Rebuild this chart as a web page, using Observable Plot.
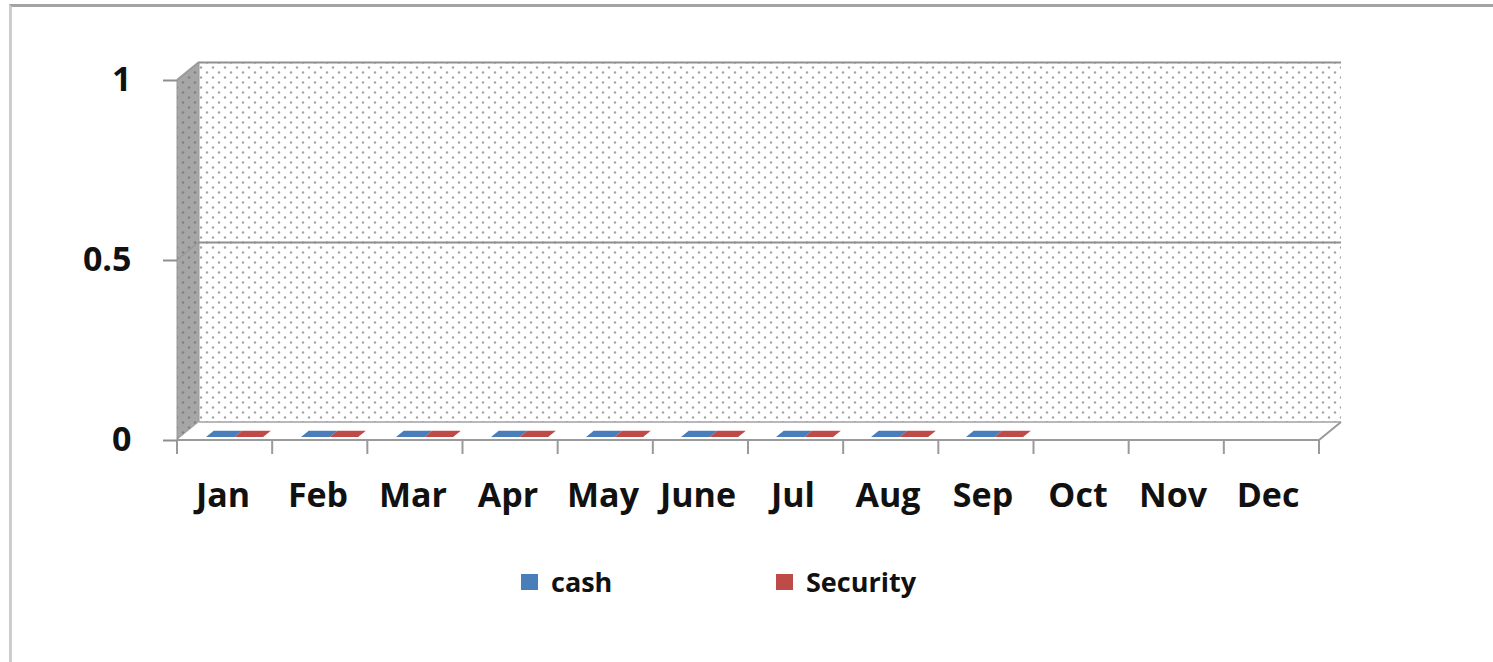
<!DOCTYPE html>
<html>
<head>
<meta charset="utf-8">
<script src="https://cdn.jsdelivr.net/npm/d3@7"></script>
<script src="https://cdn.jsdelivr.net/npm/@observablehq/plot@0.6"></script>
<style>
  body { margin: 0; background: #fff; font-family: "Open Sans", sans-serif; }
  #wrap { position: relative; width: 1493px; height: 662px; overflow: hidden; }
  #border { position: absolute; left: 9px; top: 4px; width: 1500px; height: 700px;
            border-top: 3px solid #a3a3a3; border-left: 3px solid #cdcdcd; }
  #chart { position: absolute; left: 0; top: 0; }
  #legend { position: absolute; top: 566px; left: 521px; display: flex;
            font-weight: bold; font-size: 27px; line-height: 32px; color: #111; }
  .item { display: flex; align-items: center; }
  .sw { width: 17px; height: 16px; margin-right: 13px; }
</style>
</head>
<body>
<div id="wrap">
  <div id="border"></div>
  <div id="chart"></div>
  <div id="legend"></div>
</div>
<script>
const months = ["Jan","Feb","Mar","Apr","May","June","Jul","Aug","Sep","Oct","Nov","Dec"];
const cash     = [0,0,0,0,0,0,0,0,0,null,null,null];
const security = [0,0,0,0,0,0,0,0,0,null,null,null];
const seriesNames  = ["cash","Security"];
const seriesColors = ["#4a7ebb","#be4b48"];
const yTicks = [0, 0.5, 1];

const rows = [];
months.forEach((m, i) => {
  if (cash[i] != null) rows.push({month: m, series: "cash", value: cash[i]});
  if (security[i] != null) rows.push({month: m, series: "Security", value: security[i]});
});

const DX = 22, DY = 18; // 3-D depth offset

function walls(index, scales, values, dims) {
  const {width, marginLeft, marginRight} = dims;
  const xl = marginLeft, xr = width - marginRight;
  const y0 = scales.y(0), y1 = scales.y(1), yh = scales.y(0.5);
  const bw = (xr - xl) / months.length;
  const g = d3.create("svg:g");
  const defs = g.append("defs");
  const p = defs.append("pattern").attr("id", "dots").attr("patternUnits", "userSpaceOnUse")
    .attr("width", 12).attr("height", 10);
  p.append("rect").attr("width", 12).attr("height", 10).attr("fill", "#fff");
  p.append("circle").attr("cx", 3).attr("cy", 2.5).attr("r", 1.2).attr("fill", "#a4a4a4");
  p.append("circle").attr("cx", 9).attr("cy", 7.5).attr("r", 1.2).attr("fill", "#a4a4a4");
  const ps = defs.append("pattern").attr("id", "dotsSide").attr("patternUnits", "userSpaceOnUse")
    .attr("width", 12).attr("height", 10);
  ps.append("rect").attr("width", 12).attr("height", 10).attr("fill", "#a6a6a6");
  ps.append("circle").attr("cx", 3).attr("cy", 2.5).attr("r", 1.3).attr("fill", "#828282");
  ps.append("circle").attr("cx", 9).attr("cy", 7.5).attr("r", 1.3).attr("fill", "#828282");

  // back wall
  g.append("rect").attr("x", xl + DX).attr("y", y1 - DY).attr("width", xr - xl).attr("height", y0 - y1)
    .attr("fill", "url(#dots)");
  // side wall
  g.append("polygon").attr("points", [[xl, y1], [xl + DX, y1 - DY], [xl + DX, y0 - DY], [xl, y0]].join(" "))
    .attr("fill", "url(#dotsSide)").attr("stroke", "#9a9a9a").attr("stroke-width", 1);
  // floor
  g.append("polygon").attr("points", [[xl, y0], [xr, y0], [xr + DX, y0 - DY], [xl + DX, y0 - DY]].join(" "))
    .attr("fill", "#fff");
  g.append("line").attr("x1", xl + DX).attr("x2", xr + DX).attr("y1", y0 - DY).attr("y2", y0 - DY)
    .attr("stroke", "#a0a0a0").attr("stroke-width", 1.5);
  g.append("polyline").attr("points", [[xl, y0], [xr, y0], [xr + DX, y0 - DY]].join(" "))
    .attr("fill", "none").attr("stroke", "#9a9a9a").attr("stroke-width", 2);
  // top diagonal of side wall
  g.append("line").attr("x1", xl).attr("y1", y1).attr("x2", xl + DX).attr("y2", y1 - DY)
    .attr("stroke", "#9a9a9a").attr("stroke-width", 2);
  g.append("line").attr("x1", xl).attr("y1", yh).attr("x2", xl + DX).attr("y2", yh - DY)
    .attr("stroke", "#8f8f8f").attr("stroke-width", 1);
  // category ticks at band boundaries
  for (let k = 0; k <= months.length; k++) {
    const x = xl + k * bw;
    g.append("line").attr("x1", x).attr("x2", x).attr("y1", y0).attr("y2", y0 + 14)
      .attr("stroke", "#9a9a9a").attr("stroke-width", 2);
  }
  return g.node();
}

function bars3d(index, scales, values, dims) {
  const bw = (dims.width - dims.marginLeft - dims.marginRight) / months.length;
  const g = d3.create("svg:g");
  const f1 = 0.17, f2 = 0.52;
  for (const i of index) {
    const s = seriesNames.indexOf(rows[i].series);
    const w = bw * 0.3;
    const x0 = values.x[i] + bw * 0.255 + s * w;
    const yt = Math.min(values.y1[i], values.y2[i]);
    const yb = Math.max(values.y1[i], values.y2[i]);
    const c = values.fill[i];
    if (yb > yt) {
      g.append("rect").attr("x", x0 + f1 * DX).attr("y", yt - f1 * DY).attr("width", w)
        .attr("height", yb - yt).attr("fill", c);
    }
    const pts = [[x0 + f1 * DX, yt - f1 * DY], [x0 + w + f1 * DX, yt - f1 * DY],
                 [x0 + w + f2 * DX, yt - f2 * DY], [x0 + f2 * DX, yt - f2 * DY]];
    g.append("polygon").attr("points", pts.join(" ")).attr("fill", c);
  }
  return g.node();
}

const chart = Plot.plot({
  width: 1493,
  height: 540,
  marginLeft: 177,
  marginRight: 174,
  marginTop: 80,
  marginBottom: 100,
  style: {fontFamily: "Open Sans, sans-serif", fontWeight: "bold", fontSize: "34px", color: "#111", background: "transparent"},
  x: {type: "band", domain: months, padding: 0, label: null},
  y: {domain: [0, 1], label: null},
  color: {domain: seriesNames, range: seriesColors},
  marks: [
    walls,
    Plot.ruleY([0.5, 1], {dx: DX, dy: -DY, stroke: "#8f8f8f", strokeWidth: 2, strokeOpacity: 1}),
    Plot.barY(rows, {x: "month", y: "value", fill: "series", render: bars3d}),
    Plot.axisY({ticks: yTicks, tickFormat: d => String(d), tickSize: 14, tickPadding: 32, label: null,
                stroke: "#8f8f8f", strokeWidth: 2, fill: "#111", fontSize: 34, fontWeight: "bold"}),
    Plot.axisX({tickSize: 0, tickPadding: 42, label: null, fill: "#111", fontSize: 34, fontWeight: "bold", dx: -3})
  ]
});
document.getElementById("chart").appendChild(chart);

const legend = document.getElementById("legend");
seriesNames.forEach((name, i) => {
  const item = document.createElement("div");
  item.className = "item";
  if (i === 0) item.style.width = "255px";
  const sw = document.createElement("div");
  sw.className = "sw";
  sw.style.background = seriesColors[i];
  const t = document.createElement("span");
  t.textContent = name;
  item.appendChild(sw);
  item.appendChild(t);
  legend.appendChild(item);
});
</script>
</body>
</html>
